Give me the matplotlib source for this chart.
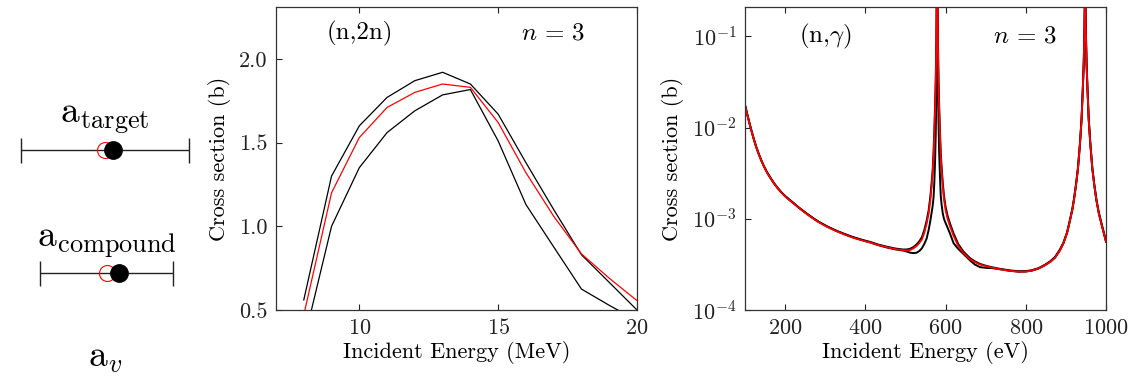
import numpy as np
import matplotlib
matplotlib.use('Agg')
from matplotlib import pyplot as plt

plt.rcParams['font.family'] = 'cmr10'
plt.rcParams['mathtext.fontset'] = 'cm'
plt.rcParams['axes.formatter.use_mathtext'] = True
plt.rcParams['font.size'] = 16

# -------------------------------------------------------------------------------
# data

# left panel: parameter values (reference = red open, fitted = black dot)
par_names = [r'$\mathrm{a}_{\mathrm{target}}$', r'$\mathrm{a}_{\mathrm{compound}}$']
par_ref = [0.0, 0.02]
par_new = [0.10, 0.17]
par_err = [1.0, 0.79]

# (n,2n)
e_n2n = [8, 9, 10, 11, 12, 13, 14, 15, 16, 17, 18, 19, 20]
n2n_upper = [0.56, 1.30, 1.60, 1.77, 1.87, 1.92, 1.85, 1.67, 1.38, 1.10, 0.83, 0.665, 0.50]
n2n_lower = [0.31, 1.00, 1.35, 1.56, 1.69, 1.785, 1.817, 1.51, 1.13, 0.877, 0.625, 0.528, 0.437]
n2n_red = [0.47, 1.20, 1.53, 1.71, 1.80, 1.85, 1.83, 1.62, 1.32, 1.06, 0.835, 0.69, 0.556]

# (n,gamma)
e_ng = [100, 105, 110, 116, 122, 128, 135, 141, 147, 155,
        165, 172, 180, 190, 200, 211, 222, 233, 245, 255,
        264, 275, 285, 295, 305, 325, 347, 365, 380, 395,
        412, 432, 453, 475, 495, 505, 512, 520, 528, 535,
        541, 547, 553, 558, 562, 565, 568, 570, 572, 574,
        575.5, 577, 578, 579, 580, 581, 582.5, 584, 586, 588,
        590, 593, 596, 600, 605, 611, 620, 632, 645, 661,
        673, 686, 700, 715, 735, 757, 782, 800, 815, 832,
        848, 862, 873, 885, 894, 903, 910, 916, 920, 925,
        930, 935, 939, 942, 944.5, 946.5, 948, 949.5, 951.5, 954,
        957, 961, 966, 971, 976, 982, 990, 1000]

ng_red = [0.0175, 0.0142, 0.0116, 9.2e-3, 7.4e-3, 6.1e-3, 5.0e-3, 4.3e-3, 3.75e-3, 3.2e-3,
          2.72e-3, 2.45e-3, 2.2e-3, 1.95e-3, 1.76e-3, 1.6e-3, 1.46e-3, 1.33e-3, 1.21e-3, 1.12e-3,
          1.05e-3, 9.7e-4, 9.1e-4, 8.6e-4, 8.15e-4, 7.4e-4, 6.75e-4, 6.3e-4, 6.0e-4, 5.75e-4,
          5.5e-4, 5.15e-4, 4.88e-4, 4.65e-4, 4.52e-4, 4.5e-4, 4.55e-4, 4.75e-4, 5.05e-4, 5.45e-4,
          5.95e-4, 7.0e-4, 8.9e-4, 1.15e-3, 1.6e-3, 2.2e-3, 3.2e-3, 4.8e-3, 8.5e-3, 0.016,
          0.03, 0.08, 0.3, 1.0, 0.3, 0.08, 0.03, 0.016, 8.5e-3, 4.8e-3,
          3.5e-3, 2.3e-3, 1.65e-3, 1.25e-3, 1.0e-3, 8.3e-4, 6.5e-4, 5.0e-4, 4.2e-4, 3.6e-4,
          3.35e-4, 3.15e-4, 3.02e-4, 2.92e-4, 2.8e-4, 2.7e-4, 2.63e-4, 2.64e-4, 2.7e-4, 2.85e-4,
          3.1e-4, 3.4e-4, 3.75e-4, 4.5e-4, 5.4e-4, 7.0e-4, 9.5e-4, 1.25e-3, 1.6e-3, 2.3e-3,
          3.5e-3, 6.5e-3, 0.012, 0.025, 0.05, 0.13, 0.5, 0.13, 0.05, 0.025,
          0.012, 6.5e-3, 3.5e-3, 2.3e-3, 1.6e-3, 1.15e-3, 8.3e-4, 5.6e-4]

ng_wide = [0.0177, 0.0144, 0.0117, 9.3e-3, 7.5e-3, 6.15e-3, 5.05e-3, 4.35e-3, 3.8e-3, 3.23e-3,
           2.75e-3, 2.47e-3, 2.22e-3, 1.97e-3, 1.78e-3, 1.62e-3, 1.48e-3, 1.34e-3, 1.22e-3, 1.13e-3,
           1.06e-3, 9.8e-4, 9.2e-4, 8.7e-4, 8.25e-4, 7.5e-4, 6.85e-4, 6.4e-4, 6.1e-4, 5.83e-4,
           5.58e-4, 5.22e-4, 4.95e-4, 4.72e-4, 4.6e-4, 4.62e-4, 4.7e-4, 4.9e-4, 5.25e-4, 5.7e-4,
           6.3e-4, 7.5e-4, 9.6e-4, 1.25e-3, 1.75e-3, 2.4e-3, 3.5e-3, 5.3e-3, 9.3e-3, 0.018,
           0.034, 0.09, 0.32, 1.0, 0.32, 0.09, 0.034, 0.018, 9.3e-3, 5.3e-3,
           3.8e-3, 2.5e-3, 1.8e-3, 1.36e-3, 1.08e-3, 8.9e-4, 6.9e-4, 5.25e-4, 4.35e-4, 3.7e-4,
           3.42e-4, 3.2e-4, 3.06e-4, 2.95e-4, 2.83e-4, 2.73e-4, 2.66e-4, 2.67e-4, 2.73e-4, 2.88e-4,
           3.14e-4, 3.45e-4, 3.82e-4, 4.6e-4, 5.5e-4, 7.15e-4, 9.7e-4, 1.28e-3, 1.64e-3, 2.35e-3,
           3.6e-3, 6.7e-3, 0.0125, 0.026, 0.052, 0.135, 0.5, 0.135, 0.052, 0.026,
           0.0125, 6.7e-3, 3.6e-3, 2.35e-3, 1.64e-3, 1.18e-3, 8.5e-4, 5.7e-4]

ng_narrow = [0.0176, 0.0143, 0.0117, 9.25e-3, 7.45e-3, 6.12e-3, 5.02e-3, 4.32e-3, 3.77e-3, 3.22e-3,
             2.74e-3, 2.46e-3, 2.21e-3, 1.96e-3, 1.77e-3, 1.61e-3, 1.47e-3, 1.34e-3, 1.22e-3, 1.13e-3,
             1.06e-3, 9.8e-4, 9.2e-4, 8.7e-4, 8.2e-4, 7.45e-4, 6.8e-4, 6.35e-4, 6.05e-4, 5.78e-4,
             5.5e-4, 5.15e-4, 4.85e-4, 4.62e-4, 4.48e-4, 4.35e-4, 4.25e-4, 4.2e-4, 4.25e-4, 4.45e-4,
             4.75e-4, 5.3e-4, 6.1e-4, 7.6e-4, 9.5e-4, 1.15e-3, 1.4e-3, 1.7e-3, 2.5e-3, 4.5e-3,
             8.5e-3, 0.025, 0.09, 1.0, 0.09, 0.03, 0.011, 5.5e-3, 3.0e-3, 1.8e-3,
             1.45e-3, 1.15e-3, 1.0e-3, 9.0e-4, 8.0e-4, 6.9e-4, 5.4e-4, 4.65e-4, 4.1e-4, 3.5e-4,
             3.15e-4, 2.95e-4, 2.9e-4, 2.88e-4, 2.8e-4, 2.7e-4, 2.63e-4, 2.64e-4, 2.7e-4, 2.85e-4,
             3.1e-4, 3.4e-4, 3.75e-4, 4.5e-4, 5.4e-4, 7.0e-4, 9.5e-4, 1.25e-3, 1.6e-3, 2.3e-3,
             3.5e-3, 6.5e-3, 0.012, 0.025, 0.05, 0.13, 0.5, 0.13, 0.05, 0.025,
             0.012, 6.5e-3, 3.5e-3, 2.3e-3, 1.6e-3, 1.15e-3, 8.3e-4, 5.6e-4]

# -------------------------------------------------------------------------------
# figure

W, H = 1128, 376
fig = plt.figure(figsize=(W / 100, H / 100), dpi=100)

# left panel
ax0 = fig.add_axes([0, 0, 200 / W, 1])
ax0.set_xlim(-1.25, 1.13)
ax0.set_ylim(0, 1)
ax0.axis('off')
row_y = [1 - 150 / H, 1 - 272.5 / H]
lab_y = [1 - 119 / H, 1 - 243 / H]
for i in range(2):
    ax0.errorbar(par_ref[i], row_y[i], xerr=par_err[i], fmt='none', ecolor='#222222',
                 elinewidth=1.0, capsize=9, capthick=1.0)
    ax0.plot(par_ref[i], row_y[i], 'o', mfc='none', mec='red', ms=11.5, mew=0.8)
    ax0.plot(par_new[i], row_y[i], 'o', color='black', ms=12.5)
    ax0.text(par_ref[i], lab_y[i], par_names[i], ha='center', va='center', fontsize=27)
ax0.text(0.0, 1 - 358 / H, r'$\mathrm{a}_{v}$', ha='center', va='center', fontsize=27)


def style(ax):
    ax.tick_params(direction='in', top=True, right=False, length=4, width=0.8,
                   labelsize=16, pad=6, colors='#222222')
    ax.tick_params(which='minor', length=0)
    for s in ax.spines.values():
        s.set_linewidth(0.9)
        s.set_color('#333333')


# (n,2n)
ax1 = fig.add_axes([276 / W, 66 / H, 361 / W, 303 / H])
ax1.plot(e_n2n, n2n_upper, color='black', lw=0.9)
ax1.plot(e_n2n, n2n_lower, color='black', lw=0.9)
ax1.plot(e_n2n, n2n_red, color='red', lw=0.9)
ax1.set_xlim(7, 20)
ax1.set_ylim(0.5, 2.31)
ax1.set_xticks([10, 15, 20])
ax1.set_yticks([0.5, 1.0, 1.5, 2.0])
ax1.set_yticklabels(['0.5', '1.0', '1.5', '2.0'])
ax1.set_xlabel('Incident Energy (MeV)', labelpad=2)
ax1.set_ylabel('Cross section (b)', labelpad=6)
ax1.text(0.233, 0.914, '(n,2n)', transform=ax1.transAxes, ha='center', va='center',
         fontsize=18)
ax1.text(0.767, 0.914, r'$n\,=\,3$', transform=ax1.transAxes, ha='center', va='center',
         fontsize=18)
style(ax1)

# (n,gamma)
ax2 = fig.add_axes([745 / W, 66 / H, 361 / W, 303 / H])
ax2.plot(e_ng, ng_narrow, color='black', lw=1.4)
ax2.plot(e_ng, ng_wide, color='black', lw=1.4)
ax2.plot(e_ng, ng_red, color='red', lw=1.3)
ax2.set_yscale('log')
ax2.set_xlim(100, 1000)
ax2.set_ylim(1e-4, 0.21)
ax2.set_xticks([200, 400, 600, 800, 1000])
ax2.set_yticks([1e-4, 1e-3, 1e-2, 1e-1])
ax2.set_xlabel('Incident Energy (eV)', labelpad=2)
ax2.set_ylabel('Cross section (b)', labelpad=6)
ax2.text(0.222, 0.904, r'(n,$\gamma$)', transform=ax2.transAxes, ha='center', va='center',
         fontsize=18)
ax2.text(0.776, 0.904, r'$n\,=\,3$', transform=ax2.transAxes, ha='center', va='center',
         fontsize=18)
style(ax2)

fig.savefig('out.png', dpi=100)
